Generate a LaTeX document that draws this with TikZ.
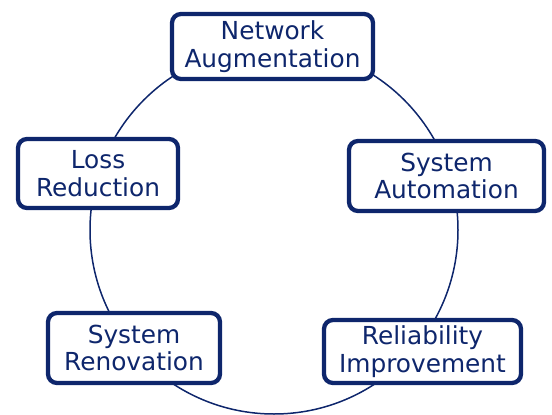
\documentclass[tikz,border=0pt]{standalone}
\usepackage{fontspec}
\setmainfont{DejaVu Sans}
\definecolor{navy}{RGB}{14,38,108}
\begin{document}
\begin{tikzpicture}[x=1pt,y=-1pt,
  box/.style={draw=navy, line width=4.3pt, rounded corners=9pt, fill=white,
    text=navy, align=center, inner sep=0pt,
    font=\fontsize{24.8}{27.5}\selectfont},
  ring/.style={draw=navy, line width=1.5pt}]
\useasboundingbox (0,0) rectangle (552,415);
\coordinate (c) at (274,230);
\draw[ring] (c) circle[radius=184];
\node[box, minimum width=201pt, minimum height=65pt] (na) at (272.5,46.5) {Network\\Augmentation};
\node[box, minimum width=160pt, minimum height=69pt] (lr) at (98,173.5) {Loss\\Reduction};
\node[box, minimum width=195pt, minimum height=70pt] (sa) at (446.5,176) {System\\Automation};
\node[box, minimum width=172pt, minimum height=70pt] (sr) at (134,348) {System\\Renovation};
\node[box, minimum width=197pt, minimum height=63pt] (ri) at (422.5,351.5) {Reliability\\Improvement};
\end{tikzpicture}
\end{document}
